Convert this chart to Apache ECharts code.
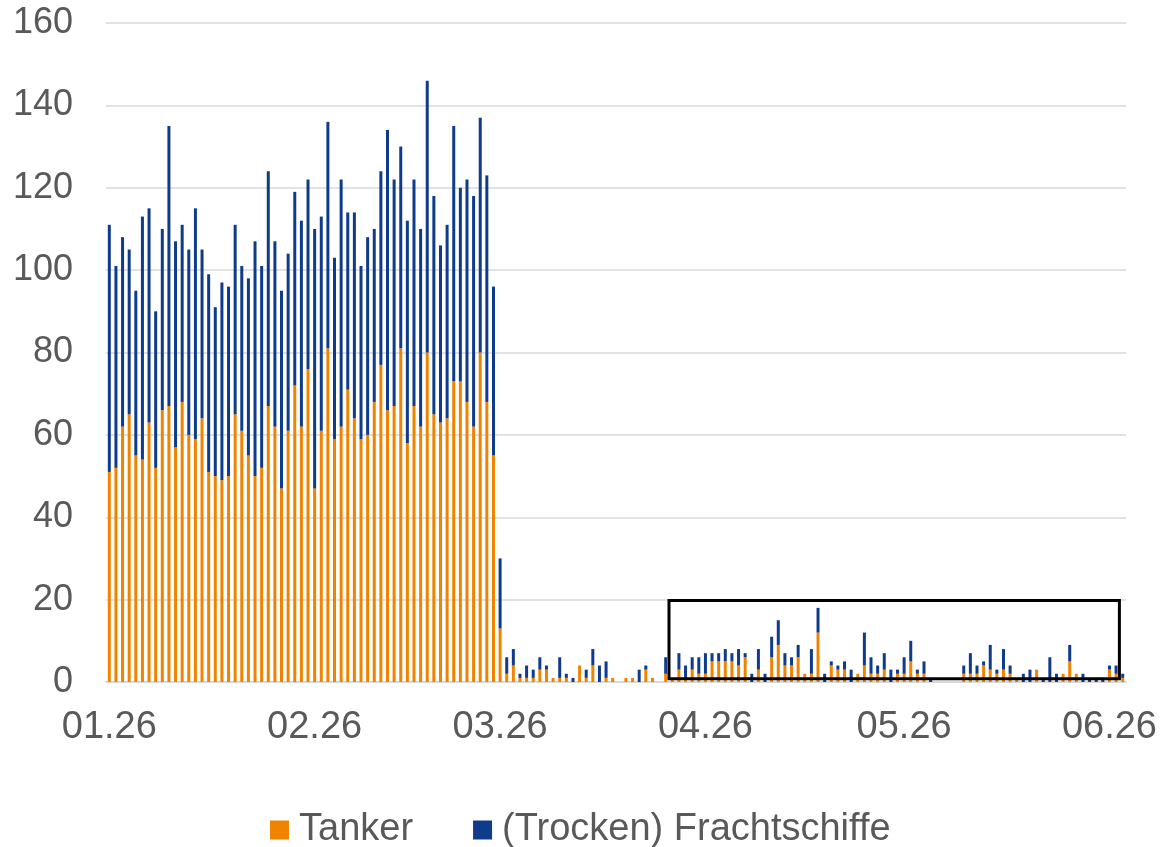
<!DOCTYPE html>
<html>
<head>
<meta charset="utf-8">
<title>Tanker / Frachtschiffe</title>
<script src="https://cdn.jsdelivr.net/npm/echarts@6/dist/echarts.min.js"></script>
<style>
html, body { margin: 0; padding: 0; background: #fff; }
#chart { width: 1160px; height: 847px; }
</style>
</head>
<body>
<div id="chart"></div>
<script>
// Tägliche Passagen, 01.01.2026 - 03.06.2026
var startDay = '2026-01-01';

var tankerJan = [51, 52, 62, 65, 55, 54, 63, 52, 66, 67, 57, 68, 60, 59, 64, 51, 50, 49, 50, 65, 61, 55, 50, 52, 67, 62, 47, 61, 72, 62, 76];
var frachtJan = [60, 49, 46, 40, 40, 59, 52, 38, 44, 68, 50, 43, 45, 56, 41, 48, 41, 48, 46, 46, 40, 43, 57, 49, 57, 45, 48, 43, 47, 50, 46];

var tankerFeb = [47, 61, 81, 59, 62, 71, 64, 59, 60, 68, 77, 66, 67, 81, 58, 67, 62, 80, 65, 63, 64, 73, 73, 68, 62, 80, 68, 55];
var frachtFeb = [63, 52, 55, 44, 60, 43, 50, 42, 48, 42, 47, 68, 55, 49, 54, 55, 48, 66, 53, 43, 47, 62, 47, 54, 56, 57, 55, 41];

var tankerMar = [13, 2, 4, 1, 1, 1, 3, 3, 1, 1, 1, 0, 4, 1, 4, 0, 1, 1, 0, 1, 1, 0, 3, 1, 0, 2, 1, 3, 1, 3, 2];
var frachtMar = [17, 4, 4, 1, 3, 2, 3, 1, 0, 5, 1, 1, 0, 2, 4, 4, 4, 0, 0, 0, 0, 3, 1, 0, 0, 4, 0, 4, 3, 3, 4];

var tankerApr = [2, 5, 5, 5, 5, 4, 6, 0, 3, 0, 6, 9, 4, 4, 6, 2, 2, 12, 0, 4, 3, 3, 0, 2, 4, 2, 2, 3, 0, 2];
var frachtApr = [5, 2, 2, 3, 2, 4, 1, 2, 5, 2, 5, 6, 3, 2, 3, 0, 6, 6, 2, 1, 1, 2, 3, 0, 8, 4, 2, 4, 3, 1];

var tankerMay = [2, 5, 2, 2, 0, 0, 0, 0, 0, 2, 2, 2, 4, 3, 2, 3, 2, 1, 0, 0, 3, 0, 0, 0, 2, 5, 2, 0, 0, 0, 0];
var frachtMay = [4, 5, 1, 3, 1, 0, 0, 0, 0, 2, 5, 2, 1, 6, 1, 5, 2, 0, 2, 3, 0, 1, 6, 2, 0, 4, 0, 2, 1, 1, 1];

var tankerJun = [3, 2, 1];
var frachtJun = [1, 2, 1];

var yTicks = { min: 0, max: 160, interval: 20 };
var boxFrom = '2026-03-27', boxTo = '2026-06-02'; // markierter Bereich
var boxLow = 0.8, boxHigh = 19.8;

var tanker = [].concat(tankerJan, tankerFeb, tankerMar, tankerApr, tankerMay, tankerJun);
var fracht = [].concat(frachtJan, frachtFeb, frachtMar, frachtApr, frachtMay, frachtJun);

var days = [];
var t0 = Date.parse(startDay + 'T00:00:00Z');
for (var i = 0; i < tanker.length; i++) {
    days.push(new Date(t0 + i * 86400000).toISOString().slice(0, 10));
}

var textGrey = '#595959';
var fontFam = '"Liberation Sans", Arial, sans-serif';

var chart = echarts.init(document.getElementById('chart'));
chart.setOption({
    animation: false,
    backgroundColor: '#fff',
    grid: { left: 106, right: 33, top: 23, bottom: 165 },
    legend: {
        data: ['Tanker', '(Trocken) Frachtschiffe'],
        left: 265,
        top: 806,
        icon: 'rect',
        itemWidth: 19,
        itemHeight: 19,
        itemGap: 60,
        textStyle: { color: textGrey, fontSize: 38, fontFamily: fontFam, padding: [0, 0, 0, 5] }
    },
    xAxis: {
        type: 'category',
        data: days,
        axisLine: { lineStyle: { color: '#d9d9d9', width: 2 } },
        axisTick: { show: false },
        axisLabel: {
            color: textGrey,
            fontSize: 38,
            fontFamily: fontFam,
            margin: 27,
            interval: function (idx, val) { return val.slice(8) === '01'; },
            formatter: function (val) { return val.slice(5, 7) + '.' + val.slice(2, 4); }
        }
    },
    yAxis: {
        type: 'value',
        min: yTicks.min,
        max: yTicks.max,
        interval: yTicks.interval,
        axisLine: { show: false },
        axisTick: { show: false },
        splitLine: { lineStyle: { color: '#d9d9d9', width: 1.5 } },
        axisLabel: { color: textGrey, fontSize: 36, fontFamily: fontFam, margin: 33 }
    },
    series: [
        {
            name: 'Tanker',
            type: 'bar',
            stack: 'schiffe',
            barWidth: 3,
            itemStyle: { color: '#f08300' },
            data: tanker
        },
        {
            name: '(Trocken) Frachtschiffe',
            type: 'bar',
            stack: 'schiffe',
            barWidth: 3,
            itemStyle: { color: '#0e3b8c' },
            data: fracht
        }
    ]
});

// Rahmen um den markierten Bereich, an den Bandgrenzen der Kategorien
function drawBox() {
    var pos = { xAxisIndex: 0, yAxisIndex: 0 };
    var first = chart.convertToPixel(pos, [days[0], 0]);
    var last = chart.convertToPixel(pos, [days[days.length - 1], 0]);
    var band = (last[0] - first[0]) / (days.length - 1);
    var p1 = chart.convertToPixel(pos, [boxFrom, boxHigh]);
    var p2 = chart.convertToPixel(pos, [boxTo, boxLow]);
    var x1 = p1[0] - band / 2, x2 = p2[0] + band / 2;
    chart.setOption({
        graphic: [{
            type: 'rect',
            z: 100,
            silent: true,
            shape: { x: x1, y: p1[1], width: x2 - x1, height: p2[1] - p1[1] },
            style: { fill: 'none', stroke: '#000', lineWidth: 3 }
        }]
    });
}
drawBox();
</script>
</body>
</html>
